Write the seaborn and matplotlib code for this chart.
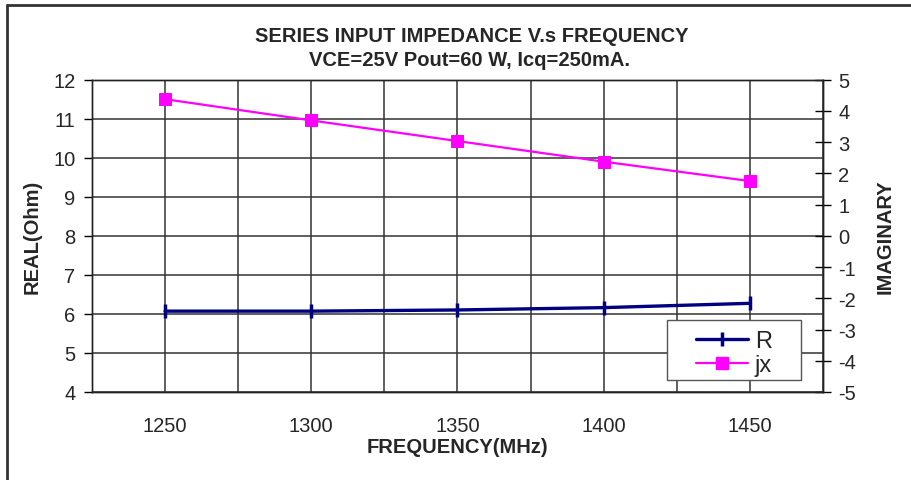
import numpy as np
import pandas as pd
import matplotlib
matplotlib.use("Agg")
import matplotlib.pyplot as plt
from matplotlib.lines import Line2D
from matplotlib.patches import Rectangle
import seaborn as sns

# ── data ─────────────────────────────────────────────────────────────────────
freq_mhz = [1250, 1300, 1350, 1400, 1450]
real_ohm = [6.07, 6.07, 6.10, 6.16, 6.27]
imag_jx  = [4.37, 3.69, 3.03, 2.37, 1.75]

title_1 = "SERIES INPUT IMPEDANCE V.s FREQUENCY"
title_2 = "VCE=25V Pout=60 W, Icq=250mA."

df = pd.DataFrame({"freq": freq_mhz, "R": real_ohm, "jx": imag_jx})

# ── style ────────────────────────────────────────────────────────────────────
sns.set_style("white")
plt.rcParams["font.family"] = ["Liberation Sans", "DejaVu Sans"]
plt.rcParams["axes.unicode_minus"] = False

GRID = "#333333"
NAVY = "#000080"
MAGENTA = "#FF00FF"
FS = 14.5

fig = plt.figure(figsize=(9.12, 4.81), dpi=100)
ax = fig.add_axes([92 / 912, 1 - 393 / 481, (823 - 92) / 912, (393 - 80.5) / 481])
ax2 = ax.twinx()

# ── lines ────────────────────────────────────────────────────────────────────
sns.lineplot(data=df, x="freq", y="R", ax=ax, color=NAVY, lw=2.4,
             marker="|", markersize=10, markeredgewidth=2.5,
             markeredgecolor=NAVY, legend=False, zorder=3)
sns.lineplot(data=df, x="freq", y="jx", ax=ax2, color=MAGENTA, lw=1.6,
             marker="s", markersize=9, markeredgecolor=MAGENTA,
             legend=False, zorder=3)

# ── axes ─────────────────────────────────────────────────────────────────────
ax.set_xlim(1225, 1475)
ax.set_ylim(4, 12)
ax2.set_ylim(-5, 5)

ax.set_xticks(freq_mhz)
ax.set_xticklabels([str(f) for f in freq_mhz], fontsize=FS)
ax.set_xticks(np.arange(1225, 1476, 50), minor=True)
ax.tick_params(axis="x", which="major", length=0, pad=17)
ax.tick_params(axis="x", which="minor", length=7, width=1, color="black",
               direction="out")

ax.set_yticks(range(4, 13))
ax.tick_params(axis="y", which="major", length=6, width=1, color="black",
               direction="out", pad=6, labelsize=FS)
ax2.set_yticks(range(-5, 6))
ax2.tick_params(axis="y", which="major", length=12, width=1, color="black",
                direction="inout", pad=5, labelsize=FS)

ax.grid(True, which="both", axis="x", color=GRID, lw=1.1)
ax.grid(True, which="major", axis="y", color=GRID, lw=1.1)
ax.set_axisbelow(True)

for a in (ax, ax2):
    for s in a.spines.values():
        s.set_color("#222222")
        s.set_linewidth(1)

ax.set_xlabel("FREQUENCY(MHz)", fontsize=FS, fontweight="bold", labelpad=2)
ax.set_ylabel("REAL(Ohm)", fontsize=FS, fontweight="bold", labelpad=8)
ax2.set_ylabel("IMAGINARY", fontsize=FS, fontweight="bold", labelpad=14)

fig.text(472 / 912, 1 - 37 / 481, title_1, ha="center", va="center",
         fontsize=FS, fontweight="bold")
fig.text(470 / 912, 1 - 60 / 481, title_2, ha="center", va="center",
         fontsize=FS, fontweight="bold")

# ── legend: white box drawn by hand, entries centred inside ──────────────────
box_x0, box_y0, box_w, box_h = 0.786, 0.038, 0.184, 0.193
ax2.add_patch(Rectangle((box_x0, box_y0), box_w, box_h, transform=ax2.transAxes,
                        facecolor="white", edgecolor="#555555", lw=1,
                        zorder=9))
handles = [
    Line2D([], [], color=NAVY, lw=2.4, marker="|", markersize=10,
           markeredgewidth=2.5),
    Line2D([], [], color=MAGENTA, lw=1.6, marker="s", markersize=9),
]
leg = ax2.legend(handles, ["R", "jx"], loc="center",
                 bbox_to_anchor=(box_x0 + box_w / 2, box_y0 + box_h / 2 - 0.01),
                 fontsize=17, frameon=False, handlelength=2.2,
                 handletextpad=0.3, borderpad=0, labelspacing=0.1,
                 borderaxespad=0)
leg.set_zorder(10)

# ── outer frame (left and top edges only visible) ────────────────────────────
fig.add_artist(Line2D([7 / 912, 7 / 912], [0, 1 - 6 / 481], color="#333333",
                      lw=2, transform=fig.transFigure))
fig.add_artist(Line2D([7 / 912, 1], [1 - 6 / 481, 1 - 6 / 481],
                      color="#333333", lw=2, transform=fig.transFigure))

fig.savefig("out.png", dpi=100)
plt.close(fig)
